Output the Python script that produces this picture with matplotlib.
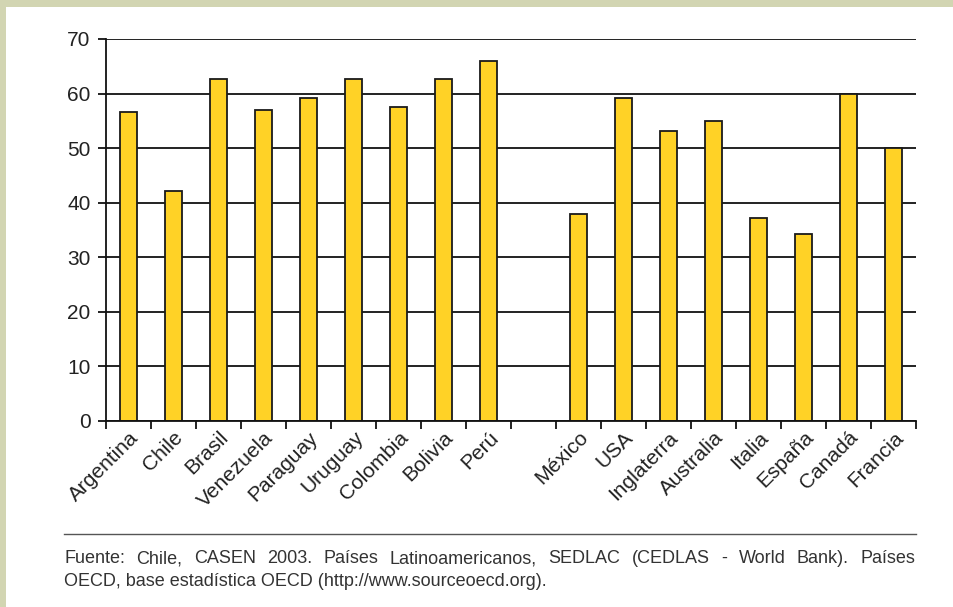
import numpy as np
import matplotlib
matplotlib.use("Agg")
import matplotlib.pyplot as plt
from matplotlib import font_manager

# data
latam = ["Argentina", "Chile", "Brasil", "Venezuela", "Paraguay", "Uruguay",
         "Colombia", "Bolivia", "Perú"]
latam_vals = [56.7, 42.2, 62.7, 57.0, 59.1, 62.7, 57.6, 62.7, 66.0]
oecd = ["México", "USA", "Inglaterra", "Australia", "Italia", "España",
        "Canadá", "Francia"]
oecd_vals = [38.0, 59.1, 53.1, 54.9, 37.2, 34.2, 60.0, 50.0]
yticks = [0, 10, 20, 30, 40, 50, 60, 70]
note_line1 = ("Fuente: Chile, CASEN 2003. Países Latinoamericanos, SEDLAC "
              "(CEDLAS - World Bank). Países")
note_line2 = "OECD, base estadística OECD (http://www.sourceoecd.org)."

plt.rcParams["font.family"] = ["Liberation Sans", "DejaVu Sans"]
names = {f.name for f in font_manager.fontManager.ttflist}
narrow = "Liberation Sans Narrow" if "Liberation Sans Narrow" in names else "Liberation Sans"

W, H = 954, 607
fig = plt.figure(figsize=(W / 100, H / 100), dpi=100, facecolor="#d2d5b2")
# white panel inside the olive frame
fig.patches.append(plt.Rectangle((6 / W, 0), 1, 1 - 7 / H, transform=fig.transFigure,
                                 facecolor="white", edgecolor="none", zorder=-5))

ax = fig.add_axes([106 / W, 1 - 421 / H, 810 / W, 382 / H])
ax.set_facecolor("none")
ax.set_zorder(2)

labels = latam + [""] + oecd
vals = latam_vals + [np.nan] + oecd_vals
pos = np.arange(len(labels))
mask = ~np.isnan(vals)

ax.bar(pos[mask], np.array(vals)[mask], width=0.37, color="#ffd226",
       edgecolor="#1a1a1a", linewidth=1.3, zorder=3)

ax.set_xlim(-0.5, len(labels) - 0.5)
ax.set_ylim(0, 70)
ax.set_yticks(yticks)
ax.yaxis.grid(True, color="#111111", linewidth=1.3, zorder=1)
ax.set_axisbelow(True)
ax.tick_params(axis="y", length=6, width=1.3, pad=5, labelsize=15,
               labelcolor="#222222", color="#111111")

ax.set_xticks(pos[mask])
ax.set_xticklabels([l for l in labels if l], rotation=45, ha="right",
                   rotation_mode="anchor", fontsize=15, color="#222222")
ax.set_xticks(np.arange(-0.5, len(labels)), minor=True)
ax.tick_params(axis="x", which="major", length=0, pad=5)
ax.tick_params(axis="x", which="minor", length=6, width=1.3, color="#111111")

for s in ["top", "right"]:
    ax.spines[s].set_visible(False)
for s in ["left", "bottom"]:
    ax.spines[s].set_color("#111111")
    ax.spines[s].set_linewidth(1.3)
    ax.spines[s].set_zorder(4)

# source note with rule above
fig.add_artist(plt.Line2D([64 / W, 916 / W], [1 - 534 / H, 1 - 534 / H],
                          transform=fig.transFigure, color="#555555", linewidth=1))

x0, x1 = 64 / W, 915 / W
fig.canvas.draw()
renderer = fig.canvas.get_renderer()
words = note_line1.split(" ")
texts = [fig.text(0, 1 - 563 / H, w, fontsize=13, family=narrow, color="#333333",
                  va="baseline") for w in words]
widths = [t.get_window_extent(renderer).width / W for t in texts]
gap = (x1 - x0 - sum(widths)) / (len(words) - 1)
x = x0
for t, w in zip(texts, widths):
    t.set_x(x)
    x += w + gap
fig.text(x0, 1 - 586 / H, note_line2, fontsize=13, family=narrow,
         color="#333333", va="baseline")

fig.savefig("out.png", dpi=100, facecolor=fig.get_facecolor())
